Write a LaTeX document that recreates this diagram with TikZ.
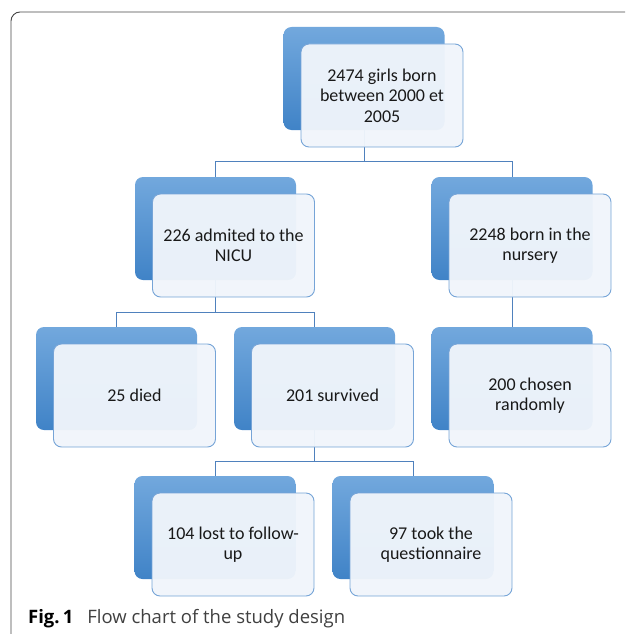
\documentclass[tikz,border=0pt]{standalone}
\usepackage{fontspec}
\setmainfont{Carlito}
\newfontfamily\capfont{Open Sans}
\usetikzlibrary{positioning}

\definecolor{backtop}{RGB}{114,168,221}
\definecolor{backbot}{RGB}{64,131,199}
\definecolor{frontfill}{RGB}{240,245,251}
\definecolor{frontline}{RGB}{118,164,215}
\definecolor{linkblue}{RGB}{79,129,189}
\definecolor{framegray}{RGB}{70,70,70}

\begin{document}
\begin{tikzpicture}[x = 1pt, y = -1pt,
        back/.style = {rounded corners = 8pt, top color = backtop,
            bottom color = backbot, minimum width = 161pt,
            minimum height = 103pt, inner sep = 0pt},
        front/.style = {rounded corners = 8pt, draw = frontline,
            line width = 0.9pt, fill = frontfill, fill opacity = 0.96,
            text opacity = 1, minimum width = 162pt, minimum height = 103pt,
            align = center, font = \fontsize{18}{20.5}\selectfont,
            text = black!90},
        link/.style = {draw = linkblue, line width = 0.8pt}]
            \useasboundingbox (0,0) rectangle (625,634);

            \draw [framegray, line width = 0.9pt, rounded corners = 9pt]
            (11,634) -- (11,12) -- (625,12);

            \node [back] (girlsb) at (364,78.5) {};
            \node [back] (nicub) at (215.5,228.5) {};
            \node [back] (nurseryb) at (512,228.5) {};
            \node [back] (diedb) at (116.5,378.5) {};
            \node [back] (survivedb) at (314.5,378.5) {};
            \node [back] (chosenb) at (512,378.5) {};
            \node [back] (lostb) at (215,527.5) {};
            \node [back] (questb) at (413,527.5) {};

            \draw [link] (girlsb.south) -- ++(0,31) -| (nicub.north);
            \draw [link] (girlsb.south) -- ++(0,31) -| (nurseryb.north);
            \draw [link] (nicub.south) -- ++(0,32) -| (diedb.north);
            \draw [link] (nicub.south) -- ++(0,32) -| (survivedb.north);
            \draw [link] (nurseryb.south) -- (chosenb.north);
            \draw [link] (survivedb.south) -- ++(0,31) -| (lostb.north);
            \draw [link] (survivedb.south) -- ++(0,31) -| (questb.north);

            \node [front] (girls) at ([shift = {(18,17)}]girlsb.center)
            {2474 girls born\\between 2000 et\\2005};
            \node [front] (nicu) at ([shift = {(18,17)}]nicub.center)
            {226 admited to the\\NICU};
            \node [front] (nursery) at ([shift = {(18,17)}]nurseryb.center)
            {2248 born in the\\nursery};
            \node [front] (died) at ([shift = {(18,17)}]diedb.center)
            {25 died};
            \node [front] (survived) at ([shift = {(18,17)}]survivedb.center)
            {201 survived};
            \node [front] (chosen) at ([shift = {(18,17)}]chosenb.center)
            {200 chosen\\randomly};
            \node [front] (lost) at ([shift = {(18,17)}]lostb.center)
            {104 lost to follow-\\up};
            \node [front] (quest) at ([shift = {(18,17)}]questb.center)
            {97 took the\\questionnaire};

            \node [anchor = base west, inner sep = 0pt,
            font = \capfont\fontsize{18.5}{20}\selectfont] (caption) at (28,623)
            {\textbf{Fig.\,1}\hspace{14pt}{\color{black!75}Flow chart of the study design}};
        \end{tikzpicture}
\end{document}
